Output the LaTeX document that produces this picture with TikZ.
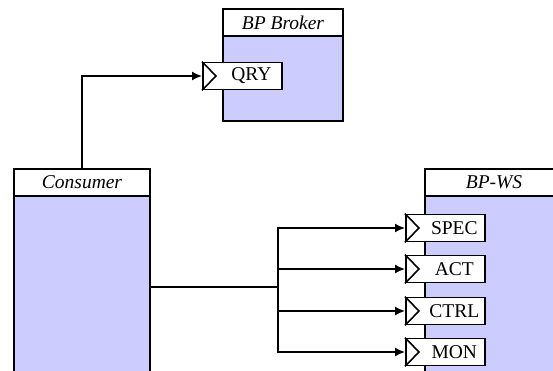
\documentclass[tikz,border=0pt]{standalone}
\usepackage{fontspec}
\setmainfont{Liberation Serif}
\usetikzlibrary{arrows.meta}
\definecolor{BodyBlue}{RGB}{204,204,255}
\newcommand{\diagfont}{\fontsize{19.5}{22}\selectfont}
\tikzset{
  hdr/.style={draw,line width=1.6pt,fill=white,minimum height=27pt,anchor=north west,inner sep=0pt,outer sep=0pt,font=\diagfont\itshape},
  body/.style={draw,line width=1.6pt,fill=BodyBlue,anchor=north west,inner sep=0pt,outer sep=0pt},
  port/.style={draw,line width=1.6pt,fill=white,minimum width=79pt,minimum height=27pt,anchor=west,inner sep=0pt,font=\diagfont,execute at begin node=\hspace*{18pt}},
  wire/.style={line width=1.6pt},
  arr/.style={wire,-{Latex[length=10pt,width=9pt]}}
}

\begin{document}
\begin{tikzpicture}[x=1pt,y=-1pt]
            \clip (0,0) rectangle (553,371);
            \node[hdr,minimum width=120pt] (brokerhd) at (223,9) {BP Broker};
            \node[body,minimum width=120pt,minimum height=85pt] (broker) at (brokerhd.south west) {};
            \node[hdr,minimum width=136pt] (consumerhd) at (14,169) {Consumer};
            \node[body,minimum width=136pt,minimum height=182pt] (consumer) at (consumerhd.south west) {};
            \node[hdr,minimum width=138pt] (wshd) at (425,169) {BP-WS};
            \node[body,minimum width=138pt,minimum height=182pt] (ws) at (wshd.south west) {};
            \foreach \h in {brokerhd,consumerhd,wshd}
                \draw[line width=2.5pt] (\h.south west) -- (\h.south east);
            \node[port] (qry) at (202,76) {QRY};
            \foreach \name/\txt/\y in {spec/SPEC/228, act/ACT/269, ctrl/CTRL/311, mon/MON/352} {
                \node[port] (\name) at (405,\y) {\txt};
            }
            \foreach \p in {qry,spec,act,ctrl,mon}
                \draw[wire] (\p.north west) -- ([xshift=14pt]\p.west) -- (\p.south west);
            \draw[arr] (consumerhd.north) |- (qry.west);
            \coordinate (fork) at ([xshift=128pt]consumer.east);
            \draw[wire] (consumer.east) -- (fork);
            \foreach \p in {spec,act,ctrl,mon}
                \draw[arr] (fork) |- (\p.west);
        \end{tikzpicture}
\end{document}
